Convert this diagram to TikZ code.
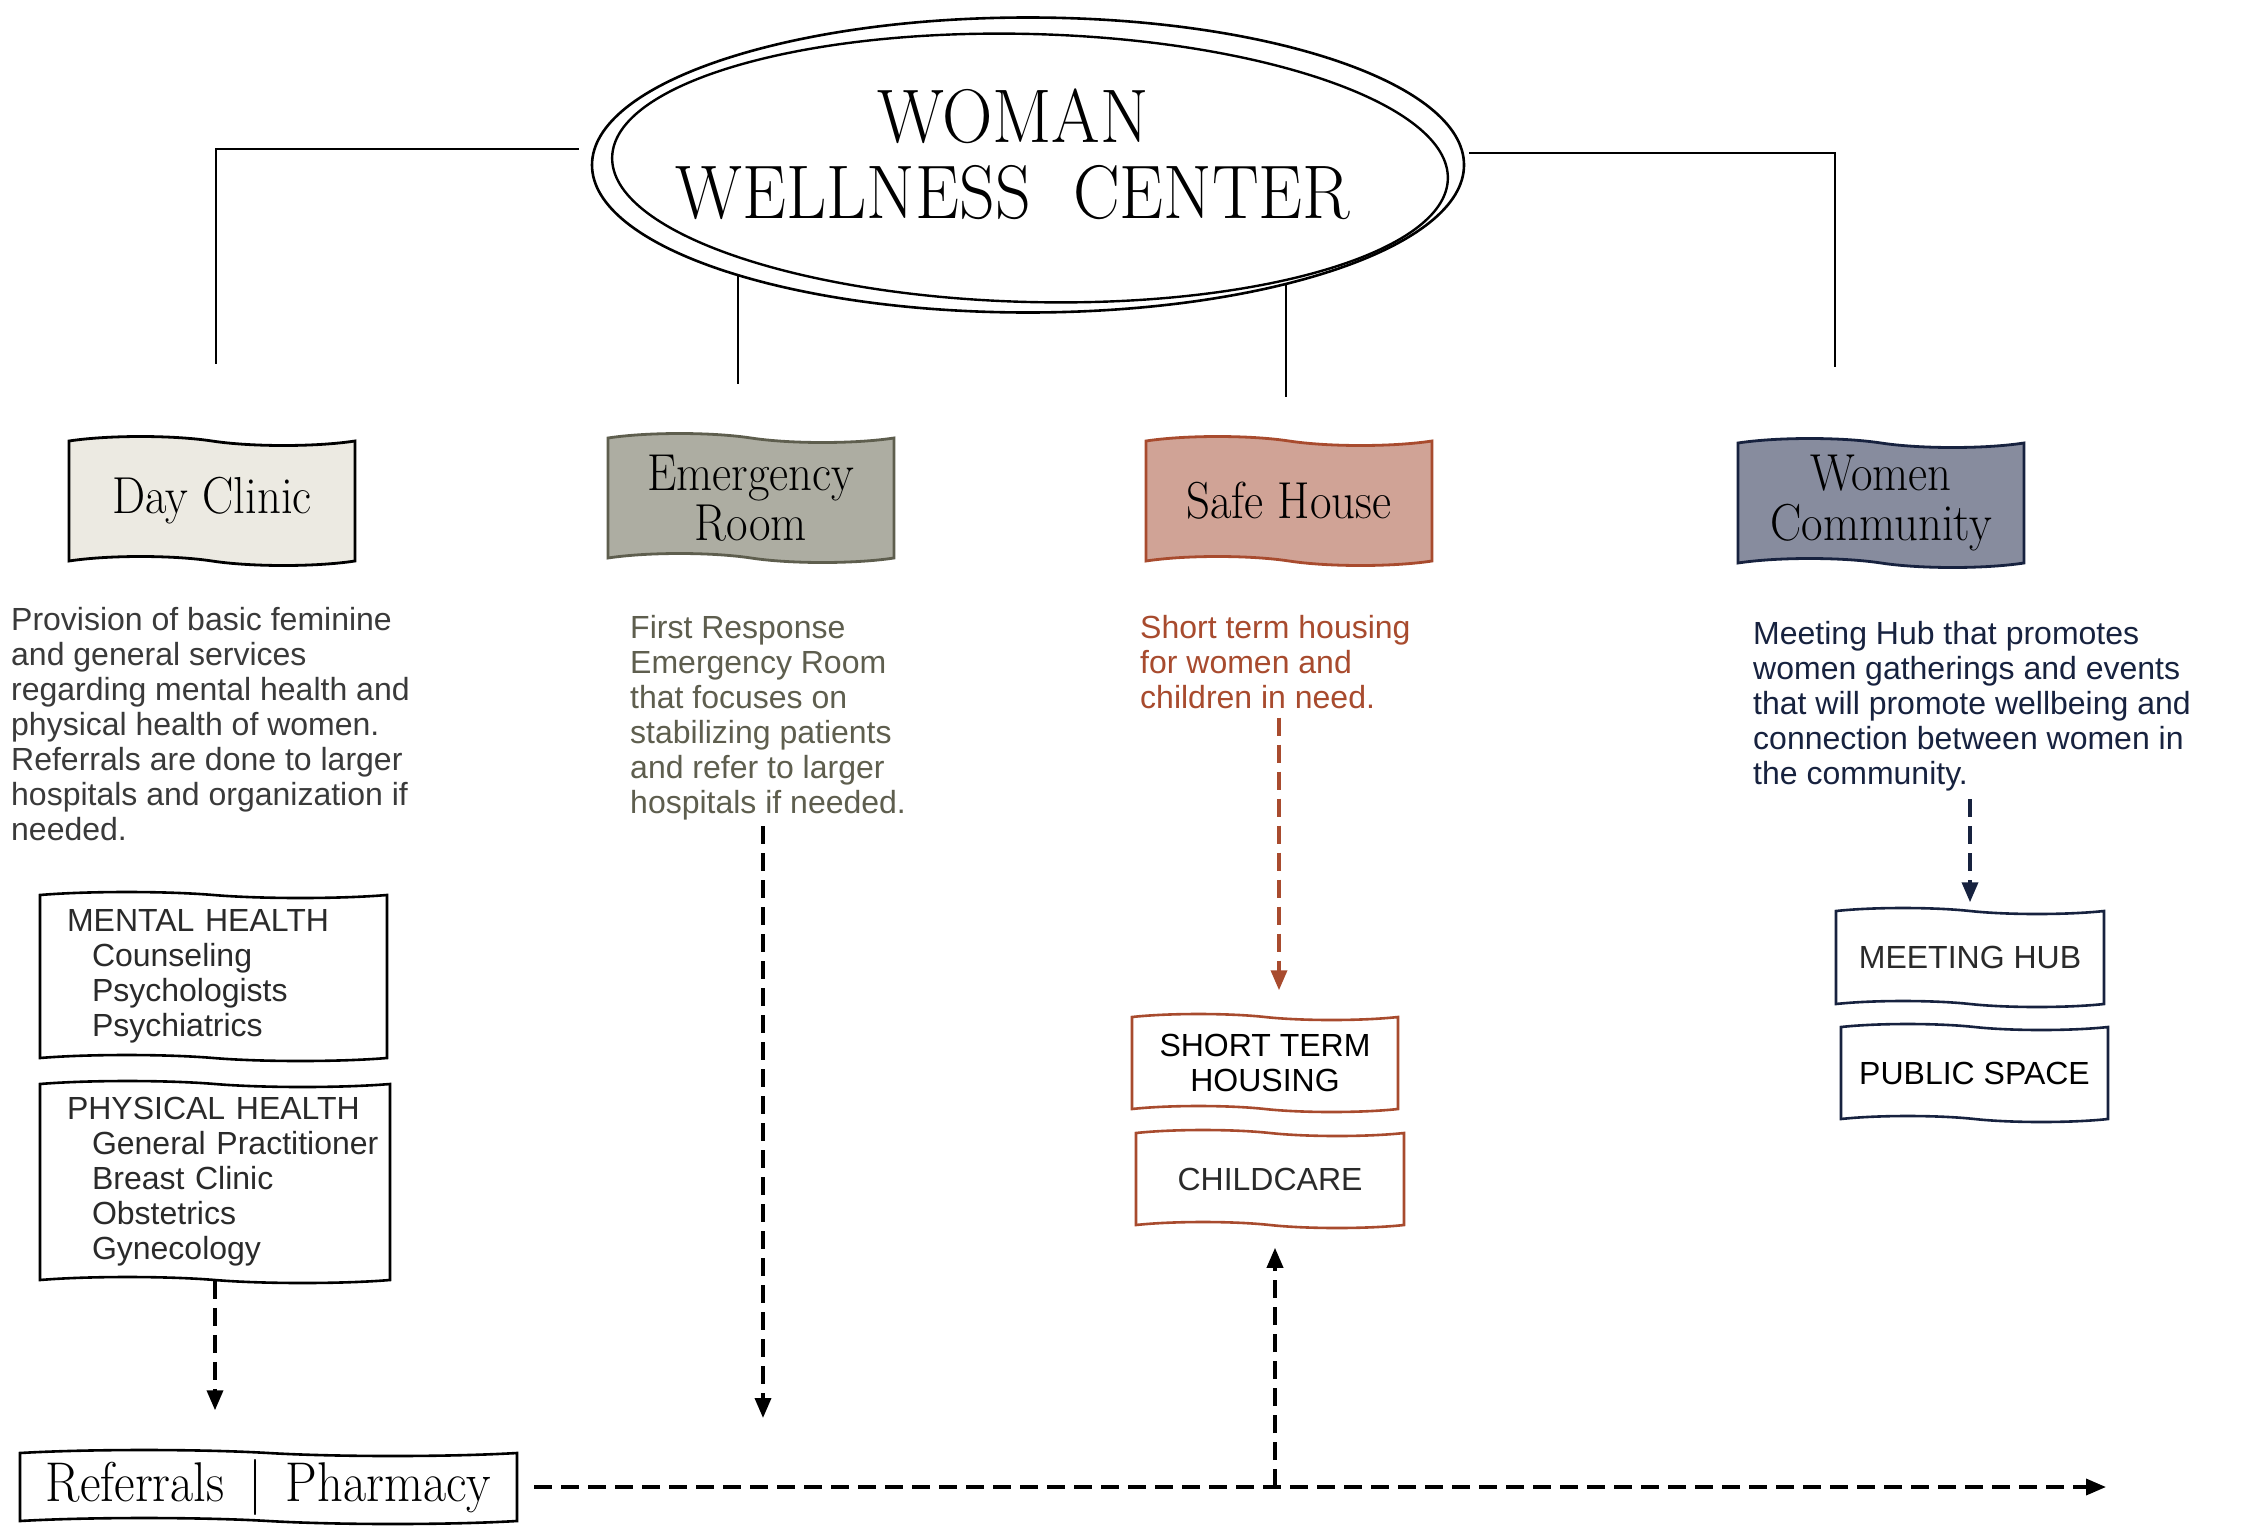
\documentclass[tikz,border=0pt]{standalone}
\usepackage{fontspec}
\usepackage{graphicx}
\newfontfamily\sansf{Liberation Sans}
\usetikzlibrary{shapes.geometric,shapes.symbols,arrows.meta}
\definecolor{dcfill}{HTML}{ECEAE2}
\definecolor{erfill}{HTML}{ADADA2}
\definecolor{erline}{HTML}{5E5E4E}
\definecolor{shfill}{HTML}{D0A396}
\definecolor{shline}{HTML}{A84B2E}
\definecolor{wcfill}{HTML}{878C9E}
\definecolor{wcline}{HTML}{17223F}
\definecolor{dctext}{HTML}{3A3A3A}
\definecolor{boxtext}{HTML}{2A2A2A}
\newcommand\cnd[1]{\scalebox{0.9}[1]{#1}}
\begin{document}
\begin{tikzpicture}[x=1pt,y=-1pt,
  hdr/.style={shape=tape, tape bend top=out and in, tape bend bottom=out and in, tape bend height=9pt, draw, line width=2.8pt, minimum width=286pt, minimum height=129pt, inner sep=0pt, align=center, font=\fontsize{52}{50}\selectfont},
  sub/.style={shape=tape, tape bend top=out and in, tape bend bottom=out and in, tape bend height=6pt, draw, line width=2.6pt, inner sep=0pt, text=boxtext, font=\sansf\fontsize{32}{35}\selectfont},
  desc/.style={anchor=north west, inner sep=0pt, align=left, font=\sansf\fontsize{32}{35}\selectfont},
  conn/.style={line width=1.6pt},
  dasharrow/.style={line width=3.6pt, dash pattern=on 18pt off 9pt, -{Triangle[length=20pt,width=16pt]}}]

\useasboundingbox (0,0) rectangle (2246,1526);
\fill[white] (0,0) rectangle (2246,1526);

% central ellipse
\node[ellipse, draw, line width=2.6pt, minimum width=872pt, minimum height=295pt, inner sep=0pt] (wwc) at (1028,165) {};
\draw[line width=2.4pt] (1030,168) ellipse [x radius=418, y radius=134, rotate=-1.5];
\node[inner sep=0pt, align=center, font=\fontsize{76}{76}\selectfont] (title) at (1013,154.5) {\scalebox{0.92}[1]{WOMAN}\\\scalebox{0.92}[1]{WELLNESS\ \ CENTER}};

% header boxes
\node[hdr, fill=dcfill] (dc) at (212,501) {\cnd{Day Clinic}};
\node[hdr, fill=erfill, draw=erline] (er) at (751,498) {\cnd{Emergency}\\\cnd{Room}};
\node[hdr, fill=shfill, draw=shline] (sh) at (1289,501) {\cnd{Safe House}};
\node[hdr, fill=wcfill, draw=wcline] (wc) at (1881,503) {\cnd{Women}\\\cnd{Community}};

% thin connectors
\coordinate (dcTop) at (216,364);
\coordinate (wcTop) at (1835,367);
\coordinate (erTop) at (739,384);
\coordinate (shTop) at (1289,397);
\draw[conn] ([xshift=-12pt,yshift=16pt]wwc.west) -| (dcTop);
\draw[conn] ([xshift=4pt,yshift=12pt]wwc.east) -| (wcTop);
\draw[conn] (wwc.201) -- (wwc.201 |- erTop);
\draw[conn] (wwc.335) -- (wwc.335 |- shTop);

% descriptions
\node[desc, text=dctext] (dcdesc) at (11,605.5) {\strut Provision of basic feminine\\and general services\\regarding mental health and\\physical health of women.\\Referrals are done to larger\\hospitals and organization if\\needed.};
\node[desc, text=erline] (erdesc) at (630,613.5) {\strut First Response\\Emergency Room\\that focuses on\\stabilizing patients\\and refer to larger\\hospitals if needed.};
\node[desc, text=shline] (shdesc) at (1140,613.5) {\strut Short term housing\\for women and\\children in need.};
\node[desc, text=wcline] (wcdesc) at (1753,619.5) {\strut Meeting Hub that promotes\\women gatherings and events\\that will promote wellbeing and\\connection between women in\\the community.};

% sub boxes
\node[sub, minimum width=347pt, minimum height=169pt, text width=293pt, align=left] (mh) at (213.5,976.5) {\strut MENTAL HEALTH\\\hspace*{25pt}Counseling\\\hspace*{25pt}Psychologists\\\hspace*{25pt}Psychiatrics\strut};
\node[sub, minimum width=350pt, minimum height=202pt, text width=296pt, align=left] (ph) at (215,1182) {\strut \mbox{PHYSICAL HEALTH}\\\hspace*{25pt}\mbox{General Practitioner}\\\hspace*{25pt}Breast Clinic\\\hspace*{25pt}Obstetrics\\\hspace*{25pt}Gynecology\strut};
\node[sub, draw=shline, text=black, minimum width=266pt, minimum height=98pt, align=center] (sht) at (1265,1063) {SHORT TERM\\HOUSING};
\node[sub, draw=shline, minimum width=268pt, minimum height=98pt] (cc) at (1270,1179) {CHILDCARE};
\node[sub, draw=wcline, minimum width=268pt, minimum height=99pt] (mhub) at (1970,957.5) {MEETING HUB};
\node[sub, draw=wcline, text=black, minimum width=267pt, minimum height=98pt] (ps) at (1974.5,1073) {PUBLIC SPACE};
\node[sub, text=black, minimum width=497pt, minimum height=74pt, font=\fontsize{56}{56}\selectfont] (ref) at (268.5,1487) {\cnd{Referrals \,|\, Pharmacy}};

% dashed arrows
\coordinate (erEnd) at (763,1418);
\coordinate (shx) at (1279,0);
\coordinate (hEnd) at (2106,0);
\coordinate (ccx) at (1275,0);
\draw[dasharrow, shorten >=42pt] (ph.south) -- (ref.north -| ph.south);
\draw[dasharrow, shorten <=6pt] (erdesc.south -| erEnd) -- (erEnd);
\draw[dasharrow, draw=shline, shorten <=9pt, shorten >=26pt] (shdesc.south -| shx) -- (sht.north -| shx);
\draw[dasharrow, draw=wcline, shorten <=8pt, shorten >=8pt] (wcdesc.south -| mhub.north) -- (mhub.north);
\draw[dasharrow, shorten <=16pt] (ref.east) -- (ref.east -| hEnd);
\draw[dasharrow, shorten >=22pt] (ref.east -| ccx) -- (cc.south -| ccx);
\end{tikzpicture}
\end{document}
